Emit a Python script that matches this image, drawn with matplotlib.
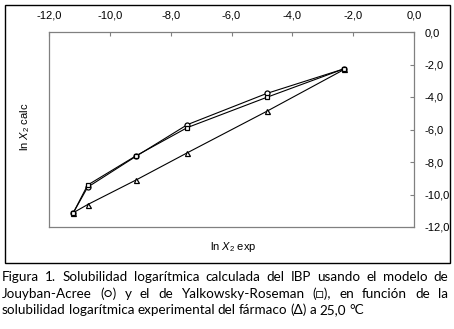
import matplotlib
matplotlib.use('Agg')
import matplotlib.pyplot as plt
from matplotlib.patches import Rectangle
from matplotlib.ticker import FuncFormatter

plt.rcParams['mathtext.fontset'] = 'custom'
plt.rcParams['mathtext.rm'] = 'Liberation Sans'
plt.rcParams['mathtext.it'] = 'Liberation Sans:italic'

# ln X2 experimental (x axis)
ln_x2_exp = [-11.20, -10.73, -9.14, -7.45, -4.84, -2.29]
# calculated values
jouyban_acree = [-11.12, -9.55, -7.65, -5.70, -3.78, -2.26]
yalkowsky_roseman = [-11.12, -9.42, -7.62, -5.88, -4.02, -2.26]
experimental = [-11.12, -10.62, -9.11, -7.43, -4.88, -2.30]

x_ticks = [-12, -10, -8, -6, -4, -2, 0]
y_ticks = [0, -2, -4, -6, -8, -10, -12]

caption = [
    "Figura 1. Solubilidad logarítmica calculada del IBP usando el modelo de",
    "Jouyban-Acree (○) y el de Yalkowsky-Roseman (□), en función de la",
    "solubilidad logarítmica experimental del fármaco (Δ) a 25,0 °C",
]

W, H = 454, 329
fig = plt.figure(figsize=(W / 100, H / 100), dpi=100)
ax = fig.add_axes([49 / W, 1 - 227 / H, 365 / W, 195 / H])

kw = dict(color='black', lw=0.8, mfc='white', mec='black', mew=0.9, clip_on=False)
ax.plot(ln_x2_exp, experimental, marker='^', ms=3.6, **kw)
ax.plot(ln_x2_exp, jouyban_acree, marker='o', ms=3.6, **kw)
ax.plot(ln_x2_exp, yalkowsky_roseman, marker='s', ms=3.4, **kw)

ax.set_xlim(-12, 0)
ax.set_ylim(-12, 0)
ax.set_xticks(x_ticks)
ax.set_yticks(y_ticks)
comma = FuncFormatter(lambda v, p: f"{v:.1f}".replace('.', ','))
ax.xaxis.set_major_formatter(comma)
ax.yaxis.set_major_formatter(comma)
ax.xaxis.tick_top()
ax.yaxis.tick_right()
ax.tick_params(axis='x', direction='in', length=3, width=0.8, color='#808080',
               pad=8.5, labelsize=8)
ax.tick_params(axis='y', direction='in', length=3, width=0.8, color='#808080',
               pad=7.5, labelsize=8)
for lab in ax.get_xticklabels() + ax.get_yticklabels():
    lab.set_family('Liberation Sans')
for sp in ax.spines.values():
    sp.set_color('#808080')
    sp.set_linewidth(0.9)

fig.text(233 / W, 1 - 247 / H, r'ln $X_2$ exp', ha='center', va='center',
         fontsize=8, family='Liberation Sans')
fig.text(25 / W, 1 - 127 / H, r'ln $X_2$ calc', ha='center', va='center',
         rotation=90, fontsize=8, family='Liberation Sans')

# outer frame
frame = Rectangle((5 / W, 1 - 263 / H), 445 / W, 258 / H,
                  transform=fig.transFigure, fill=False,
                  edgecolor='black', lw=1.0, zorder=10)
fig.add_artist(frame)
# right-hand labels get cut by the frame like in the original
cut = Rectangle((0, 0), 449 / W, 1, transform=fig.transFigure)
for t in ax.yaxis.get_major_ticks():
    t.label2.set_clip_on(True)
    t.label2.set_clip_path(cut)

# justified caption
renderer = fig.canvas.get_renderer()
x0, x1 = 2, 448
baselines = [281, 297.5, 314]
for i, line in enumerate(caption):
    words = line.split(' ')
    texts = [fig.text(0, 1 - baselines[i] / H, w, fontsize=9.7,
                      family=['Lato', 'DejaVu Sans'], va='baseline', color='black')
             for w in words]
    widths = [t.get_window_extent(renderer).width for t in texts]
    if i < len(caption) - 1:
        gap = (x1 - x0 - sum(widths)) / (len(words) - 1)
    else:
        gap = 3.0
    x = x0
    for t, w in zip(texts, widths):
        t.set_x(x / W)
        x += w + gap

fig.savefig('out.png', dpi=100)
